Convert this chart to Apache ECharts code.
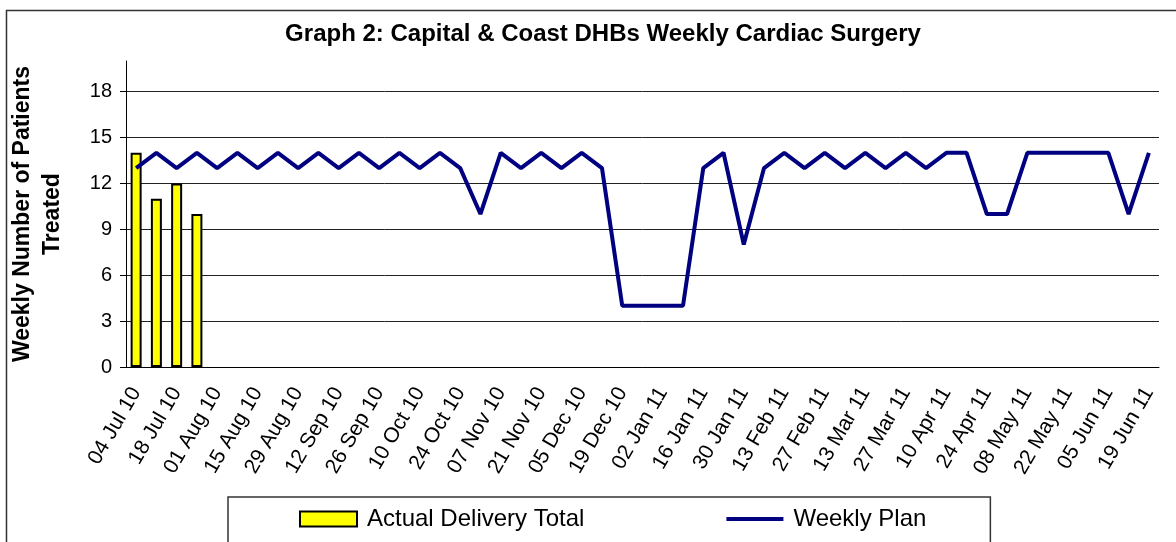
<!DOCTYPE html>
<html>
<head>
<meta charset="utf-8">
<script src="https://cdn.jsdelivr.net/npm/echarts@6/dist/echarts.min.js"></script>
<style>
  html, body { margin: 0; padding: 0; background: #fff; }
  #chart { width: 1176px; height: 542px; }
</style>
</head>
<body>
<div id="chart"></div>
<script>
// weekly categories, 04 Jul 10 - 19 Jun 11
var weeks = [
  '04 Jul 10', '11 Jul 10', '18 Jul 10', '25 Jul 10',
  '01 Aug 10', '08 Aug 10', '15 Aug 10', '22 Aug 10', '29 Aug 10',
  '05 Sep 10', '12 Sep 10', '19 Sep 10', '26 Sep 10',
  '03 Oct 10', '10 Oct 10', '17 Oct 10', '24 Oct 10', '31 Oct 10',
  '07 Nov 10', '14 Nov 10', '21 Nov 10', '28 Nov 10',
  '05 Dec 10', '12 Dec 10', '19 Dec 10', '26 Dec 10',
  '02 Jan 11', '09 Jan 11', '16 Jan 11', '23 Jan 11', '30 Jan 11',
  '06 Feb 11', '13 Feb 11', '20 Feb 11', '27 Feb 11',
  '06 Mar 11', '13 Mar 11', '20 Mar 11', '27 Mar 11',
  '03 Apr 11', '10 Apr 11', '17 Apr 11', '24 Apr 11',
  '01 May 11', '08 May 11', '15 May 11', '22 May 11', '29 May 11',
  '05 Jun 11', '12 Jun 11', '19 Jun 11'
];

// actual delivered (only first 4 weeks reported)
var actualTotal = [14, 11, 12, 10];

// weekly plan
var weeklyPlan = [
  13, 14, 13, 14, 13, 14, 13, 14, 13, 14,
  13, 14, 13, 14, 13, 14, 13, 10, 14, 13,
  14, 13, 14, 13, 4, 4, 4, 4, 13, 14,
  8, 13, 14, 13, 14, 13, 14, 13, 14, 13,
  14, 14, 10, 10, 14, 14, 14, 14, 14, 10,
  14
];

var font = 'Liberation Sans, Arial, sans-serif';

var myChart = echarts.init(document.getElementById('chart'));
myChart.setOption({
  animation: false,
  textStyle: { fontFamily: font },
  title: {
    text: 'Graph 2: Capital & Coast DHBs Weekly Cardiac Surgery',
    left: 598,
    textAlign: 'center',
    top: 17,
    textStyle: { fontSize: 24, fontWeight: 'bold', color: '#000', fontFamily: font }
  },
  graphic: [{
    type: 'rect',
    left: 4,
    top: 8,
    shape: { width: 1190, height: 600 },
    style: { fill: 'none', stroke: '#333', lineWidth: 1.5 },
    silent: true
  }],
  legend: {
    left: 228,
    top: 497,
    padding: [10, 64, 40, 71],
    itemGap: 140,
    itemWidth: 57,
    itemHeight: 15,
    borderColor: '#333',
    borderWidth: 1.5,
    textStyle: { fontSize: 24, color: '#000', fontFamily: font, padding: [0, 0, 0, 5] },
    data: [
      { name: 'Actual Delivery Total', icon: 'rect' },
      {
        name: 'Weekly Plan',
        itemStyle: { color: 'rgba(0,0,0,0)', borderColor: 'rgba(0,0,0,0)', borderWidth: 0 },
        lineStyle: { color: '#000080', width: 4 }
      }
    ]
  },
  grid: {
    left: 125,
    right: 17,
    top: 61,
    bottom: 175
  },
  xAxis: {
    type: 'category',
    data: weeks,
    boundaryGap: true,
    axisLine: { lineStyle: { color: '#000', width: 1 } },
    axisTick: { interval: 0, length: 8, lineStyle: { color: '#666' } },
    axisLabel: {
      interval: 1,
      rotate: 60,
      fontSize: 21,
      color: '#000',
      margin: 22,
      fontFamily: font
    },
    splitLine: { show: false }
  },
  yAxis: {
    type: 'value',
    min: 0,
    max: 20,
    interval: 3,
    name: 'Weekly Number of Patients\nTreated',
    nameLocation: 'middle',
    nameGap: 58,
    nameTextStyle: { fontSize: 23, fontWeight: 'bold', color: '#000', lineHeight: 30, fontFamily: font },
    axisLine: { show: true, lineStyle: { color: '#000' } },
    axisTick: { show: true, length: 6, lineStyle: { color: '#000' } },
    axisLabel: { fontSize: 20, color: '#000', margin: 14, showMaxLabel: false, fontFamily: font },
    splitLine: { show: true, showMaxLine: false, lineStyle: { color: '#222', width: 1 } }
  },
  series: [
    {
      name: 'Actual Delivery Total',
      type: 'bar',
      data: actualTotal,
      barWidth: 11,
      itemStyle: { color: '#ffff00', borderColor: '#000', borderWidth: 2 }
    },
    {
      name: 'Weekly Plan',
      type: 'line',
      data: weeklyPlan,
      symbol: 'none',
      lineStyle: { color: '#000080', width: 4 },
      itemStyle: { color: '#000080' }
    }
  ]
});
</script>
</body>
</html>
